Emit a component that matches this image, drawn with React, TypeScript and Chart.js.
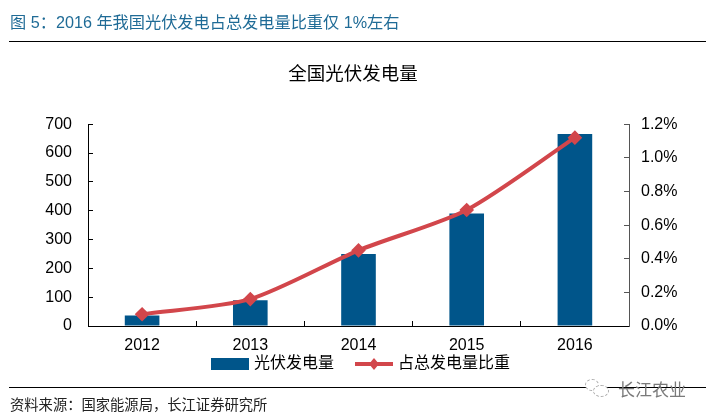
import React, { useEffect, useRef } from "react";
import { Chart, registerables } from "chart.js";

Chart.register(...registerables);

const years = ["2012", "2013", "2014", "2015", "2016"];
const generation = [36, 89, 250, 390, 666];
const share = [0.07, 0.16, 0.45, 0.69, 1.12];
const barColor = "#00558A";
const lineColor = "#D2464B";
const cjk = '"Liberation Sans", "Noto Sans CJK SC", sans-serif';

function legendBar() {
  const c = document.createElement("canvas");
  c.width = 38; c.height = 14;
  const g = c.getContext("2d")!;
  g.fillStyle = barColor;
  g.fillRect(0, 1, 38, 12);
  return c;
}
function legendLine() {
  const c = document.createElement("canvas");
  c.width = 38; c.height = 14;
  const g = c.getContext("2d")!;
  g.fillStyle = lineColor;
  g.fillRect(0, 5, 38, 4);
  g.beginPath();
  g.moveTo(19, 1); g.lineTo(24, 7); g.lineTo(19, 13); g.lineTo(14, 7);
  g.closePath(); g.fill();
  return c;
}

const shiftLegend = {
  id: "shiftLegend",
  afterLayout(chart: any) {
    chart.legend.left += 9;
    chart.legend.right += 9;
    chart.legend.top -= 22;
    chart.legend.bottom -= 22;
  },
};

export default function App() {
  const ref = useRef<HTMLCanvasElement>(null);
  useEffect(() => {
    document.body.style.margin = "0";
    const chart = new Chart(ref.current!, {
      type: "bar",
      plugins: [shiftLegend],
      data: {
        labels: years,
        datasets: [
          { type: "line", label: "占总发电量比重", data: share, yAxisID: "y1", borderColor: lineColor, backgroundColor: lineColor, borderWidth: 4, tension: 0.25, pointStyle: "rectRot", pointRadius: 4.5, order: 1 },
          { type: "bar", label: "光伏发电量", data: generation, yAxisID: "y", backgroundColor: barColor, barPercentage: 0.32, categoryPercentage: 1, order: 2 },
        ],
      } as any,
      options: {
        animation: false,
        responsive: false,
        layout: { padding: { top: 64, bottom: 13, left: 0, right: 0 } },
        plugins: {
          title: { display: true, text: "全国光伏发电量", color: "#000", font: { family: cjk, size: 18.5, weight: "normal" }, padding: { top: 0, bottom: 38 } },
          tooltip: { enabled: false },
          legend: {
            position: "bottom",
            reverse: true,
            labels: {
              color: "#000",
              font: { family: cjk, size: 16 },
              usePointStyle: true,
              pointStyleWidth: 32,
              boxHeight: 14,
              padding: 24,
              generateLabels: () => [
                { text: "占总发电量比重", pointStyle: legendLine(), datasetIndex: 0, fontColor: "#000", lineWidth: 0, strokeStyle: "transparent", fillStyle: lineColor },
                { text: "光伏发电量", pointStyle: legendBar(), datasetIndex: 1, fontColor: "#000", lineWidth: 0, strokeStyle: "transparent", fillStyle: barColor },
              ],
            },
          },
        },
        scales: {
          x: {
            grid: { drawOnChartArea: false, tickLength: -5, color: "#000", offset: true },
            border: { color: "#000" },
            ticks: { color: "#000", font: { family: cjk, size: 16 }, padding: 15, maxRotation: 0 },
            afterFit: (s: any) => { s.height = 28; },
          },
          y: {
            position: "left", min: 0, max: 700,
            grid: { drawOnChartArea: false, tickLength: -5, color: "#000" },
            border: { color: "#000" },
            ticks: { stepSize: 100, color: "#000", font: { family: cjk, size: 16 }, padding: 21 },
            afterFit: (s: any) => { s.width = 88; },
          },
          y1: {
            position: "right", min: 0, max: 1.2,
            grid: { drawOnChartArea: false, tickLength: -5, color: "#555" },
            border: { color: "#555" },
            ticks: { stepSize: 0.2, color: "#000", font: { family: cjk, size: 16 }, padding: 17, callback: (v: any) => Number(v).toFixed(1) + "%" },
            afterFit: (s: any) => { s.width = 77; },
          },
        },
      } as any,
    });
    return () => chart.destroy();
  }, []);
  const abs = (o: React.CSSProperties): React.CSSProperties => ({ position: "absolute", fontFamily: cjk, whiteSpace: "nowrap", ...o });
  return (
    <div style={{ position: "relative", width: 706, height: 417, overflow: "hidden", background: "#fff" }}>
      <canvas ref={ref} width={706} height={417} style={{ position: "absolute", left: 0, top: 0 }} />
      <div style={abs({ left: 10, top: 9, fontSize: 16.2, color: "#1F6B96" })}>图 5{"\uFF1A"}2016 年我国光伏发电占总发电量比重仅 1%左右</div>
      <div style={abs({ left: 9, top: 41, width: 697, height: 1, background: "#000" })} />
      <div style={abs({ left: 9, top: 387, width: 697, height: 1, background: "#000" })} />
      <div style={abs({ left: 10, top: 393, fontSize: 14.3, color: "#222" })}>资料来源{"\uFF1A"}国家能源局{"\uFF0C"}长江证券研究所</div>
      <div style={abs({ left: 585, top: 379, width: 12, height: 10, borderRadius: "50%", border: "1px dashed #aaa", background: "#fff" })} />
      <div style={abs({ left: 593, top: 385, width: 14, height: 10, borderRadius: "50%", border: "1px dashed #aaa", background: "#fff" })} />
      <div style={abs({ left: 618, top: 376, fontSize: 17, color: "#7a7a7a" })}>长江农业</div>
    </div>
  );
}
